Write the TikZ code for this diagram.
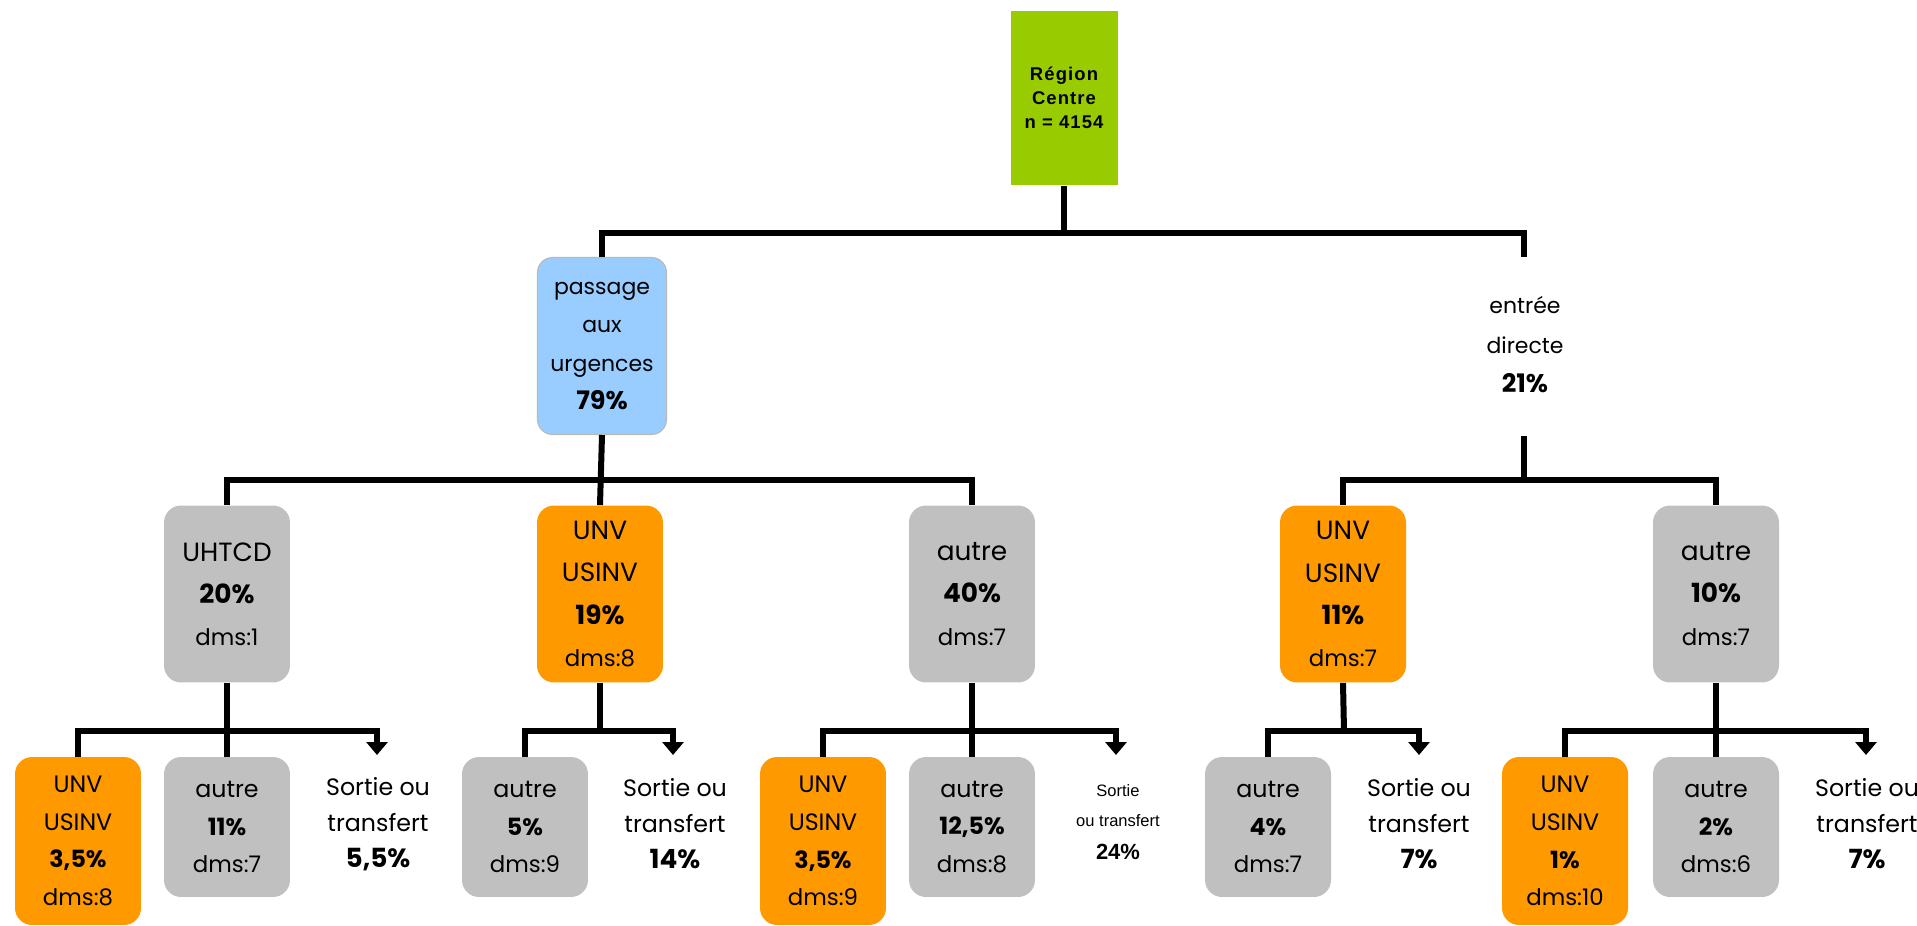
\documentclass[tikz,border=0pt]{standalone}
\usepackage{fontspec}
\setmainfont{Poppins}
\newfontfamily\arialsp[LetterSpace=6]{Liberation Sans}
\newfontfamily\arialfont{Liberation Sans}
\usetikzlibrary{arrows.meta}

\definecolor{vertbox}{HTML}{99CC00}
\definecolor{bleubox}{HTML}{99CCFF}
\definecolor{orangebox}{HTML}{FF9900}
\definecolor{grisbox}{HTML}{C0C0C0}

\newcommand{\dms}[1]{{\fontsize{13}{\baselineskip}\selectfont #1}}

\tikzset{
  conn/.style={line width=0.12cm},
  fleche/.style={conn,-{Triangle[width=0.42cm,length=0.26cm]}},
  lvtwo/.style={rounded corners=0.34cm, minimum width=2.52cm, minimum height=3.54cm,
    inner sep=0pt, align=center, font=\fontsize{15}{24}\selectfont},
  lvthree/.style={rounded corners=0.34cm, minimum width=2.52cm, minimum height=2.8cm,
    inner sep=0pt, align=center, font=\fontsize{13.5}{21.5}\selectfont},
  lvthreeorange/.style={lvthree, fill=orangebox, minimum height=3.36cm},
  sortie/.style={align=center, font=\fontsize{13.5}{20.5}\selectfont},
}

\begin{document}
\begin{tikzpicture}[x=0.02cm,y=-0.02cm]
  \useasboundingbox (0,0) rectangle (1917,926);
  % racine
  \node[fill=vertbox, minimum width=2.14cm, minimum height=3.5cm, inner sep=0pt, align=center,
    font=\arialsp\bfseries\fontsize{10.5}{13.7}\selectfont] (racine) at (1064,98) {Région\\Centre\\n = 4154};
  % niveau 1
  \node[fill=bleubox, draw=gray!55, line width=0.6pt, rounded corners=0.3cm, minimum width=2.58cm,
    minimum height=3.54cm, inner sep=0pt, align=center, font=\fontsize{12.5}{22}\selectfont]
    (urg) at (602,346) {passage\\aux\\urgences\\{\fontsize{14.5}{22}\selectfont\bfseries 79\%}};
  \node[align=center, font=\fontsize{12.5}{22.5}\selectfont] (direct) at (1525,345)
    {entrée\\directe\\{\fontsize{14.5}{22.5}\selectfont\bfseries 21\%}};
  % niveau 2
  \node[lvtwo, fill=grisbox] (uhtcd) at (227,594) {UHTCD\\\textbf{20\%}\\\dms{dms:1}};
  \node[lvtwo, fill=orangebox] (unvA) at (600,594) {UNV\\USINV\\\textbf{19\%}\\\dms{dms:8}};
  \node[lvtwo, fill=grisbox] (autreA) at (972,594) {autre\\\textbf{40\%}\\\dms{dms:7}};
  \node[lvtwo, fill=orangebox] (unvB) at (1343,594) {UNV\\USINV\\\textbf{11\%}\\\dms{dms:7}};
  \node[lvtwo, fill=grisbox] (autreB) at (1716,594) {autre\\\textbf{10\%}\\\dms{dms:7}};
  % niveau 3
  \node[lvthreeorange] (unvA1) at (78,841) {UNV\\USINV\\\textbf{3,5\%}\\\dms{dms:8}};
  \node[lvthree, fill=grisbox] (autreA1) at (227,827) {autre\\\textbf{11\%}\\\dms{dms:7}};
  \node[sortie] (sortA1) at (378,824) {Sortie ou\\transfert\\{\fontsize{15}{24}\selectfont\bfseries 5,5\%}};
  \node[lvthree, fill=grisbox] (autreA2) at (525,827) {autre\\\textbf{5\%}\\\dms{dms:9}};
  \node[sortie] (sortA2) at (675,824) {Sortie ou\\transfert\\{\fontsize{15}{24}\selectfont\bfseries 14\%}};
  \node[lvthreeorange] (unvA3) at (823,841) {UNV\\USINV\\\textbf{3,5\%}\\\dms{dms:9}};
  \node[lvthree, fill=grisbox] (autreA3) at (972,827) {autre\\\textbf{12,5\%}\\\dms{dms:8}};
  \node[align=center, font=\arialfont\fontsize{9.4}{17}\selectfont] (sortA3) at (1118,822)
    {Sortie\\ou transfert\\[2pt]{\fontsize{12.5}{17}\selectfont\bfseries 24\%}};
  \node[lvthree, fill=grisbox] (autreB1) at (1268,827) {autre\\\textbf{4\%}\\\dms{dms:7}};
  \node[sortie] (sortB1) at (1419,824) {Sortie ou\\transfert\\{\fontsize{15}{24}\selectfont\bfseries 7\%}};
  \node[lvthreeorange] (unvB2) at (1565,841) {UNV\\USINV\\\textbf{1\%}\\\dms{dms:10}};
  \node[lvthree, fill=grisbox] (autreB2) at (1716,827) {autre\\\textbf{2\%}\\\dms{dms:6}};
  \node[sortie] (sortB2) at (1867,824) {Sortie ou\\transfert\\{\fontsize{15}{24}\selectfont\bfseries 7\%}};

  % liens racine -> niveau 1
  \coordinate (j0) at (1064,233);
  \coordinate (d0) at (1524,257);
  \draw[conn] (racine.south) -- (j0);
  \draw[conn] (urg.north) |- (j0) -| (d0);
  % liens niveau 1 -> niveau 2
  \coordinate (j1) at (600,480);
  \draw[conn] (urg.south) -- (unvA.north);
  \draw[conn] (uhtcd.north) |- (j1) -| (autreA.north);
  \coordinate (d1) at (1524,436);
  \coordinate (j2) at (1524,480);
  \draw[conn] (d1) -- (j2);
  \draw[conn] (unvB.north) |- (j2) -| (autreB.north);
  % liens niveau 2 -> niveau 3
  \coordinate (k1) at (227,731);
  \coordinate (s1) at (377,755);
  \draw[conn] (uhtcd.south) -- (autreA1.north);
  \draw[fleche] (unvA1.north) |- (k1) -| (s1);
  \coordinate (k2) at (600,731);
  \coordinate (s2) at (673,755);
  \draw[conn] (unvA.south) -- (k2);
  \draw[fleche] (autreA2.north) |- (k2) -| (s2);
  \coordinate (k3) at (972,731);
  \coordinate (s3) at (1116,755);
  \draw[conn] (autreA.south) -- (autreA3.north);
  \draw[fleche] (unvA3.north) |- (k3) -| (s3);
  \coordinate (k4) at (1344,731);
  \coordinate (s4) at (1419,755);
  \draw[conn] (unvB.south) -- (k4);
  \draw[fleche] (autreB1.north) |- (k4) -| (s4);
  \coordinate (k5) at (1716,731);
  \coordinate (s5) at (1866,755);
  \draw[conn] (autreB.south) -- (autreB2.north);
  \draw[fleche] (unvB2.north) |- (k5) -| (s5);
\end{tikzpicture}
\end{document}
